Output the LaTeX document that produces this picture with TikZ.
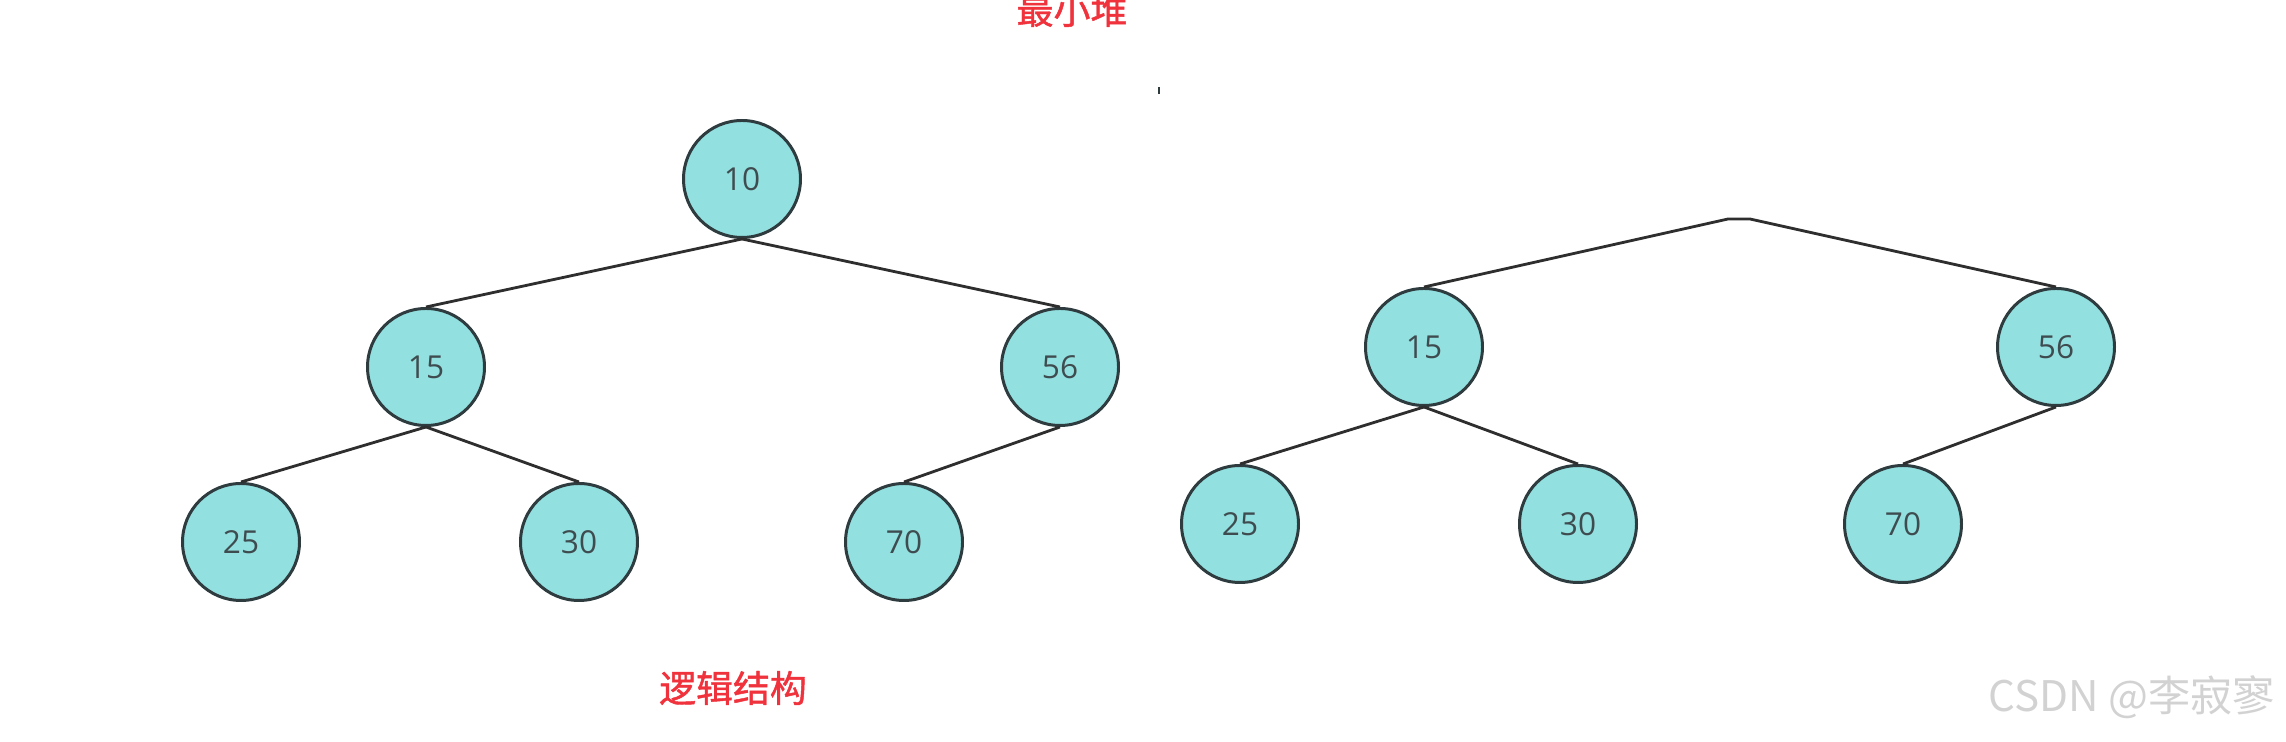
\documentclass[tikz,border=0pt]{standalone}
\usepackage{fontspec}
\setmainfont{Open Sans}
\newfontfamily\cjk{Noto Sans CJK SC}
\newfontfamily\cjkbold[FakeBold=1.2]{Noto Sans CJK SC}
\usetikzlibrary{positioning}
\definecolor{hpfill}{HTML}{93E0E0}
\definecolor{hpline}{HTML}{2E3B3F}
\definecolor{hptext}{HTML}{3E4C50}
\definecolor{hpred}{HTML}{F0323C}
\definecolor{hpmark}{HTML}{D2D2D2}
\tikzset{
  hp/.style={circle,draw=hpline,fill=hpfill,line width=0.85pt,minimum size=11.7mm,
    inner sep=0pt,font=\fontsize{9}{10}\selectfont,text=hptext},
  link/.style={line width=0.8pt,color=black!82},
  redtxt/.style={text=hpred,font=\cjkbold\fontsize{10.5}{12}\selectfont},
}
\begin{document}
\begin{tikzpicture}[x=0.1mm,y=-0.1mm]
\useasboundingbox (0,0) rectangle (2286,742);
% left tree
\node[hp] (a10) at (742,179) {10};
\node[hp] (a15) at (426,367) {15};
\node[hp] (a56) at (1060,367) {56};
\node[hp] (a25) at (241,542) {25};
\node[hp] (a30) at (579,542) {30};
\node[hp] (a70) at (904,542) {70};
\draw[link] (a10.south) -- (a15.north); \draw[link] (a10.south) -- (a56.north);
\draw[link] (a15.south) -- (a25.north); \draw[link] (a15.south) -- (a30.north);
\draw[link] (a56.south) -- (a70.north);
% right tree, root left out
\coordinate (topl) at (1728,219);
\coordinate (topr) at (1750,219);
\node[hp] (b15) at (1424,347) {15};
\node[hp] (b56) at (2056,347) {56};
\node[hp] (b25) at (1240,524) {25};
\node[hp] (b30) at (1578,524) {30};
\node[hp] (b70) at (1903,524) {70};
\draw[link] (b15.north) -- (topl) -- (topr) -- (b56.north);
\draw[link] (b15.south) -- (b25.north); \draw[link] (b15.south) -- (b30.north);
\draw[link] (b56.south) -- (b70.north);
% texts
\node[redtxt] (title) at (1072,10) {最小堆};
\node[redtxt] (logic) at (733,688) {逻辑结构};
\fill[hpline] (1158,87) rectangle (1160,94);
\node[text=hpmark,font=\cjk\fontsize{12}{14}\selectfont] (mark) at (2132,697) {CSDN @李寂寥};
\end{tikzpicture}
\end{document}
